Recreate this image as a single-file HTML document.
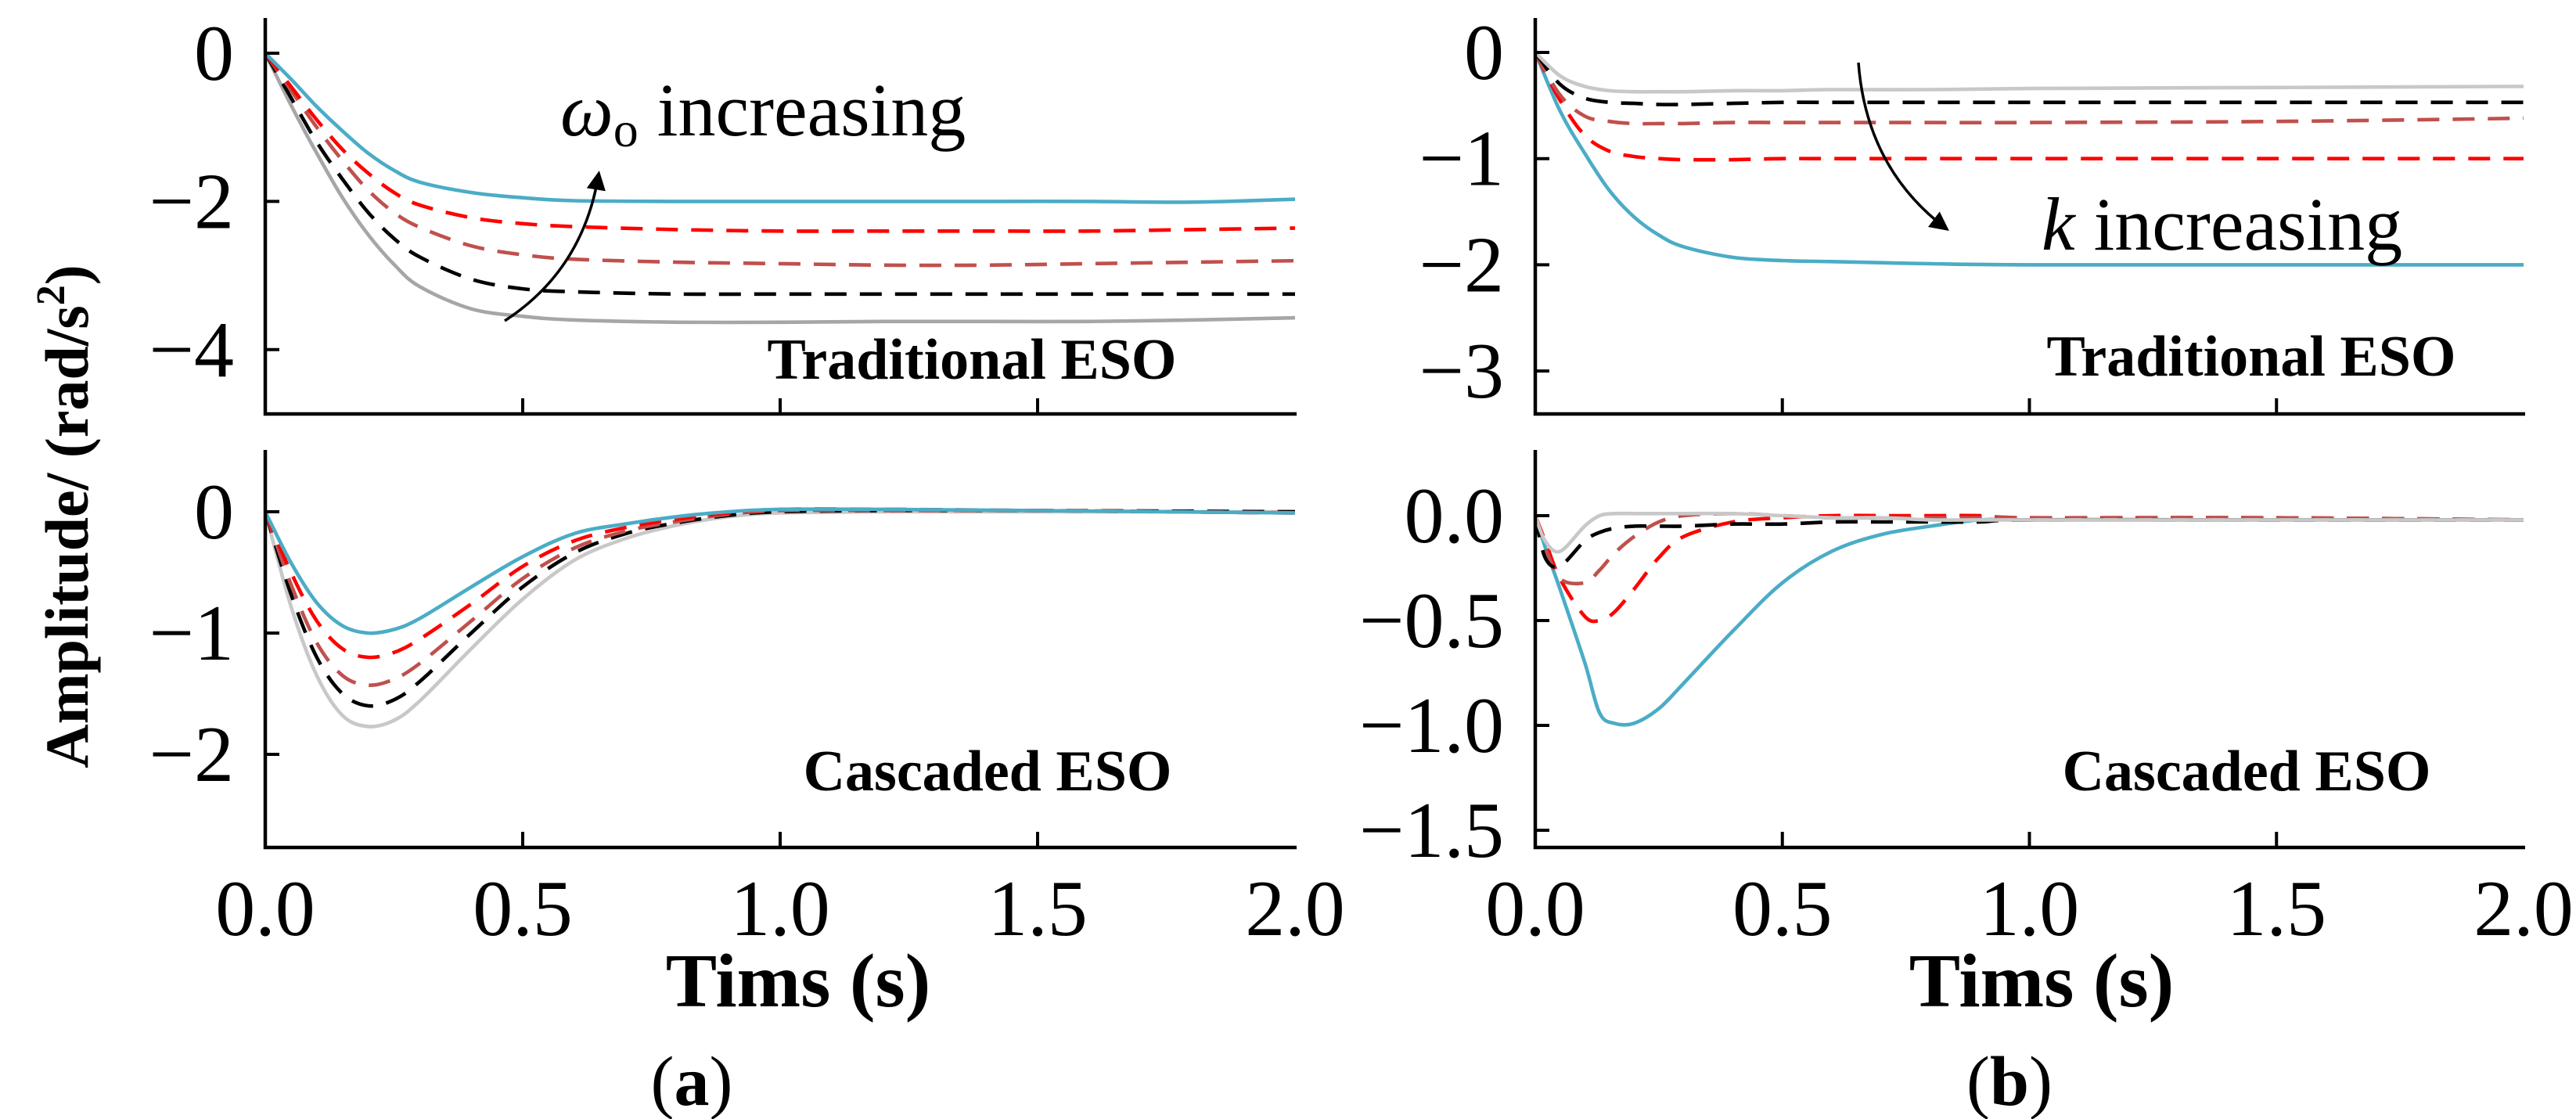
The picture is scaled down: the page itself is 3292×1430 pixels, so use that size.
<!DOCTYPE html>
<html><head><meta charset="utf-8"><style>
html,body{margin:0;padding:0;background:#fff;}
svg{display:block;}
text{font-family:"Liberation Serif","Times New Roman",serif;fill:#000;}
</style></head><body>
<svg id="chart" width="3292" height="1430" viewBox="0 0 3292 1430" xmlns="http://www.w3.org/2000/svg" font-family="Liberation Serif, serif"></svg>
<script>
// ---- data ----
const tA = [0,0.05,0.1,0.15,0.2,0.25,0.3,0.4,0.5,0.6,0.8,1.0,1.2,1.4,1.6,1.8,2.0];
const aTopBlue  = [0,-0.35,-0.72,-1.05,-1.35,-1.58,-1.74,-1.88,-1.95,-1.99,-2.0,-2.0,-2.0,-2.0,-2.0,-2.01,-1.97];
const aTopRed   = [0,-0.45,-0.9,-1.3,-1.62,-1.88,-2.05,-2.22,-2.3,-2.34,-2.38,-2.4,-2.4,-2.4,-2.4,-2.38,-2.36];
const aTopBrown = [0,-0.5,-1.0,-1.45,-1.85,-2.15,-2.35,-2.6,-2.72,-2.78,-2.82,-2.84,-2.86,-2.86,-2.84,-2.82,-2.8];
const aTopBlack = [0,-0.6,-1.2,-1.7,-2.15,-2.5,-2.75,-3.05,-3.18,-3.22,-3.25,-3.25,-3.25,-3.25,-3.25,-3.25,-3.25];
const aTopGray  = [0,-0.7,-1.35,-1.95,-2.45,-2.85,-3.15,-3.45,-3.55,-3.6,-3.63,-3.63,-3.62,-3.62,-3.62,-3.6,-3.57];

const tB = [0,0.05,0.1,0.15,0.2,0.25,0.3,0.4,0.5,0.6,0.7,0.8,0.9,1.0,1.2,1.5,2.0];
const aBotBlue  = [0,-0.42,-0.75,-0.94,-1.0,-0.97,-0.88,-0.62,-0.37,-0.18,-0.1,-0.04,0,0.02,0.02,0.01,-0.01];
const aBotRed   = [0,-0.5,-0.9,-1.13,-1.2,-1.16,-1.05,-0.76,-0.45,-0.24,-0.13,-0.06,-0.01,0.02,0.02,0.01,-0.01];
const aBotBrown = [0,-0.6,-1.08,-1.35,-1.43,-1.38,-1.25,-0.9,-0.55,-0.3,-0.16,-0.08,-0.02,0.01,0.01,0.01,-0.01];
const aBotBlack = [0,-0.68,-1.2,-1.5,-1.6,-1.55,-1.4,-1.0,-0.62,-0.34,-0.18,-0.09,-0.03,0.0,0.01,0.01,0.0];
const aBotGray  = [0,-0.78,-1.35,-1.68,-1.77,-1.72,-1.56,-1.13,-0.72,-0.4,-0.22,-0.11,-0.04,-0.01,0,0,0];

const tC = [0,0.05,0.1,0.15,0.2,0.25,0.3,0.4,0.5,0.6,0.8,1.0,1.5,2.0];
const bTopBlue  = [0,-0.55,-0.95,-1.3,-1.55,-1.72,-1.83,-1.93,-1.96,-1.97,-1.99,-2.0,-2.0,-2.0];
const bTopRed   = [0,-0.45,-0.78,-0.93,-0.98,-1.0,-1.01,-1.01,-1.0,-1.0,-1.0,-1.0,-1.0,-1.0];
const bTopBrown = [0,-0.4,-0.6,-0.65,-0.67,-0.67,-0.67,-0.66,-0.66,-0.66,-0.66,-0.66,-0.65,-0.62];
const bTopBlack = [0,-0.3,-0.43,-0.47,-0.48,-0.49,-0.49,-0.48,-0.47,-0.47,-0.47,-0.47,-0.47,-0.47];
const bTopGray  = [0,-0.22,-0.32,-0.36,-0.37,-0.37,-0.37,-0.36,-0.36,-0.35,-0.35,-0.34,-0.33,-0.32];

const tD = [0,0.02,0.05,0.1,0.13,0.16,0.2,0.25,0.3,0.4,0.5,0.6,0.7,0.8,0.9,1.0,1.5,2.0];
const bBotBlue  = [0,-0.15,-0.35,-0.7,-0.94,-0.99,-0.99,-0.92,-0.8,-0.55,-0.32,-0.17,-0.09,-0.05,-0.02,-0.02,-0.02,-0.02];
const bBotRed   = [0,-0.12,-0.3,-0.48,-0.5,-0.46,-0.35,-0.2,-0.1,-0.03,-0.01,0,0,0,0,-0.01,-0.01,-0.02];
const bBotBrown = [0,-0.15,-0.3,-0.32,-0.26,-0.18,-0.1,-0.03,0,0.01,0,-0.01,-0.01,-0.01,-0.01,-0.01,-0.01,-0.02];
const bBotBlack = [0,-0.2,-0.24,-0.12,-0.08,-0.06,-0.05,-0.05,-0.05,-0.04,-0.04,-0.03,-0.03,-0.03,-0.03,-0.02,-0.02,-0.02];
const bBotGray  = [0,-0.12,-0.17,-0.05,0,0.01,0.01,0.01,0.01,0.01,0,-0.01,-0.01,-0.02,-0.02,-0.02,-0.02,-0.02];

const xTickVals = [0,0.5,1.0,1.5,2.0];
const xTickLabels = ["0.0","0.5","1.0","1.5","2.0"];
const aTopTicks = [0,-2,-4];       const aTopLabels = ["0","\u22122","\u22124"];
const aBotTicks = [0,-1,-2];       const aBotLabels = ["0","\u22121","\u22122"];
const bTopTicks = [0,-1,-2,-3];    const bTopLabels = ["0","\u22121","\u22122","\u22123"];
const bBotTicks = [0,-0.5,-1,-1.5];const bBotLabels = ["0.0","\u22120.5","\u22121.0","\u22121.5"];

// ---- drawing ----
const NS="http://www.w3.org/2000/svg";
const svg=document.getElementById('chart');
const FF="Liberation Serif, Times New Roman, serif";
function mk(tag,attrs,parent){const e=document.createElementNS(NS,tag);for(const k in attrs)e.setAttribute(k,attrs[k]);(parent||svg).appendChild(e);return e;}
function smooth(pts){let d="M"+pts[0][0].toFixed(1)+","+pts[0][1].toFixed(1);
 for(let i=0;i<pts.length-1;i++){const p0=pts[i-1]||pts[i],p1=pts[i],p2=pts[i+1],p3=pts[i+2]||p2;
  const c1=[p1[0]+(p2[0]-p0[0])/6,p1[1]+(p2[1]-p0[1])/6],c2=[p2[0]-(p3[0]-p1[0])/6,p2[1]-(p3[1]-p1[1])/6];
  d+=" C"+c1[0].toFixed(1)+","+c1[1].toFixed(1)+" "+c2[0].toFixed(1)+","+c2[1].toFixed(1)+" "+p2[0].toFixed(1)+","+p2[1].toFixed(1);}
 return d;}

const colors={blue:"#4bacc6",red:"#ff0000",brown:"#c0504d",black:"#000000",gray:"#a6a6a6",lgray:"#c8c8c8"};

function panel(cfg){
 const g=mk('g',{});
 
 
 const sx=v=>cfg.x0+(v-0)*(cfg.x1-cfg.x0)/2.0;
 const sy=v=>cfg.y0+(-v)*cfg.unit;
 cfg.series.forEach(s=>{
  const pts=s.t.map((t,i)=>[sx(t),sy(s.v[i])]);
  const p=mk('path',{d:smooth(pts),fill:"none",stroke:s.c,"stroke-width":4.6,"stroke-linejoin":"round"},g);
  if(s.dash)p.setAttribute('stroke-dasharray',"28 17");
  
  
 });
 const ax=mk('path',{d:`M${cfg.x0},${cfg.top} V${cfg.bottom} H${cfg.x1+2}`,fill:"none",stroke:"#000","stroke-width":4.5},g);
 
 
 cfg.yTicks.forEach((v,i)=>{
  mk('line',{x1:cfg.x0,x2:cfg.x0+18,y1:sy(v),y2:sy(v),stroke:"#000","stroke-width":4},g);
  const t=mk('text',{x:cfg.x0-40,y:sy(v)+34,"text-anchor":"end","font-size":102,"font-family":FF},g);
  t.textContent=cfg.yLabels[i];
  
  
 });
 xTickVals.forEach((v,i)=>{
  if(v>0&&v<2) mk('line',{x1:sx(v),x2:sx(v),y1:cfg.bottom,y2:cfg.bottom-20,stroke:"#000","stroke-width":4},g);
  if(cfg.xLabels){
   const t=mk('text',{x:sx(v),y:1195,"text-anchor":"middle","font-size":102,"font-family":FF},g);
   t.textContent=xTickLabels[i];
   
   
  }
 });
 const tt=mk('text',{x:cfg.tx,y:cfg.ty,"text-anchor":"middle","font-size":74,"font-weight":"bold","font-family":FF},g);
 tt.textContent=cfg.title;
 
 
}

const C=colors;
panel({name:'plot-a-traditional',x0:339,x1:1655,y0:68,unit:94.7,top:23,bottom:529,yTicks:aTopTicks,yLabels:aTopLabels,xLabels:false,title:"Traditional ESO",tx:1242,ty:484,
 series:[{n:'series-gray',t:tA,v:aTopGray,c:C.gray},{n:'series-black',t:tA,v:aTopBlack,c:C.black,dash:1},{n:'series-brown',t:tA,v:aTopBrown,c:C.brown,dash:1},{n:'series-red',t:tA,v:aTopRed,c:C.red,dash:1},{n:'series-blue',t:tA,v:aTopBlue,c:C.blue}]});
panel({name:'plot-a-cascaded',x0:339,x1:1655,y0:654,unit:155,top:575,bottom:1083,yTicks:aBotTicks,yLabels:aBotLabels,xLabels:true,title:"Cascaded ESO",tx:1262,ty:1010,
 series:[{n:'series-gray',t:tB,v:aBotGray,c:C.lgray},{n:'series-black',t:tB,v:aBotBlack,c:C.black,dash:1},{n:'series-brown',t:tB,v:aBotBrown,c:C.brown,dash:1},{n:'series-red',t:tB,v:aBotRed,c:C.red,dash:1},{n:'series-blue',t:tB,v:aBotBlue,c:C.blue}]});
panel({name:'plot-b-traditional',x0:1962,x1:3225,y0:67,unit:135.7,top:23,bottom:529,yTicks:bTopTicks,yLabels:bTopLabels,xLabels:false,title:"Traditional ESO",tx:2877,ty:480,
 series:[{n:'series-blue',t:tC,v:bTopBlue,c:C.blue},{n:'series-red',t:tC,v:bTopRed,c:C.red,dash:1},{n:'series-brown',t:tC,v:bTopBrown,c:C.brown,dash:1},{n:'series-black',t:tC,v:bTopBlack,c:C.black,dash:1},{n:'series-gray',t:tC,v:bTopGray,c:C.lgray}]});
panel({name:'plot-b-cascaded',x0:1962,x1:3225,y0:659,unit:268,top:575,bottom:1083,yTicks:bBotTicks,yLabels:bBotLabels,xLabels:true,title:"Cascaded ESO",tx:2871,ty:1010,
 series:[{n:'series-blue',t:tD,v:bBotBlue,c:C.blue},{n:'series-red',t:tD,v:bBotRed,c:C.red,dash:1},{n:'series-brown',t:tD,v:bBotBrown,c:C.brown,dash:1},{n:'series-black',t:tD,v:bBotBlack,c:C.black,dash:1},{n:'series-gray',t:tD,v:bBotGray,c:C.lgray}]});

mk('defs',{}).innerHTML='<marker id="ah" viewBox="0 0 10 10" refX="8" refY="5" markerWidth="7" markerHeight="7" orient="auto"><path d="M0,0 L10,5 L0,10 z" fill="#000"/></marker>';
const a1=mk('path',{d:"M645,410 Q745,345 765,223",fill:"none",stroke:"#000","stroke-width":3.5,"marker-end":"url(#ah)"});


const a2=mk('path',{d:"M2375,80 Q2385,215 2487,292",fill:"none",stroke:"#000","stroke-width":3.5,"marker-end":"url(#ah)"});


</script>
<svg width="3292" height="1430" style="position:absolute;left:0;top:0" xmlns="http://www.w3.org/2000/svg" font-family="Liberation Serif, serif">
<text x="716" y="173" font-size="96" font-style="italic" font-family="Liberation Serif, serif">ω<tspan font-style="normal" font-size="64" dy="14">o</tspan><tspan font-style="normal" dy="-14"> increasing</tspan></text>
<text x="2609" y="319" font-size="96" font-family="Liberation Serif, serif"><tspan font-style="italic">k</tspan> increasing</text>
<text transform="translate(112,660) rotate(-90)" text-anchor="middle" font-size="78" font-weight="bold" font-family="Liberation Serif, serif">Amplitude/ (rad/s<tspan dy="-30" font-size="52">2</tspan><tspan dy="30">)</tspan></text>
<text x="1020" y="1286" text-anchor="middle" font-size="98" font-weight="bold" font-family="Liberation Serif, serif">Tims (s)</text>
<text x="2609" y="1286" text-anchor="middle" font-size="98" font-weight="bold" font-family="Liberation Serif, serif">Tims (s)</text>
<text x="884" y="1412" text-anchor="middle" font-size="90" font-family="Liberation Serif, serif">(<tspan font-weight="bold">a</tspan>)</text>
<text x="2568" y="1412" text-anchor="middle" font-size="90" font-family="Liberation Serif, serif">(<tspan font-weight="bold">b</tspan>)</text>
</svg>
</body></html>
